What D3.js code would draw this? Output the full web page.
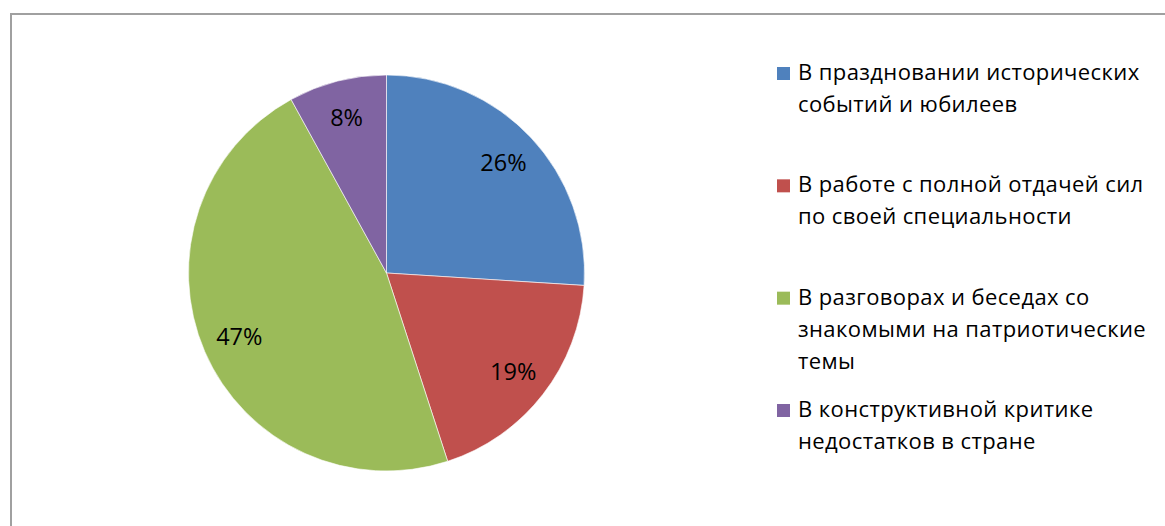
<!DOCTYPE html>
<html lang="ru">
<head>
    <meta charset="UTF-8">
    <title>Pie chart</title>
    <script src="https://d3js.org/d3.v7.min.js"></script>
    <style>
        body {
            margin: 0;
            background: #fff;
            font-family: "Open Sans", "Noto Sans", "DejaVu Sans", sans-serif;
        }
        svg { display: block; }
        .pct { font-size: 23.5px; fill: #000; }
        .legend text { font-size: 22px; letter-spacing: 0.4px; fill: #000; }
    </style>
</head>
<body>
    <div id="chart"></div>

    <script>
        // legend labels, wrapped the way the original shows them
        const categoryLines = [
            ["В праздновании исторических", "событий и юбилеев"],
            ["В работе с полной отдачей сил", "по своей специальности"],
            ["В разговорах и беседах со", "знакомыми на патриотические", "темы"],
            ["В конструктивной критике", "недостатков в стране"]
        ];
        const values = [26, 19, 47, 8];
        const colors = ["#4F81BD", "#C0504D", "#9BBB59", "#8064A2"];

        const width = 1165;
        const height = 526;

        const svg = d3.select("#chart").append("svg")
            .attr("width", width)
            .attr("height", height);

        // chart area border (runs off the right/bottom edge in the original)
        svg.append("rect")
            .attr("x", 11)
            .attr("y", 14)
            .attr("width", 1400)
            .attr("height", 800)
            .attr("fill", "none")
            .attr("stroke", "#a0a0a0")
            .attr("stroke-width", 2);

        const cx = 386.5, cy = 273, radius = 198;

        const pie = d3.pie().sort(null).value(d => d);
        const arcs = pie(values);

        const arc = d3.arc().innerRadius(0).outerRadius(radius);
        const labelArc = d3.arc().innerRadius(radius * 0.81).outerRadius(radius * 0.81);

        const g = svg.append("g")
            .attr("transform", `translate(${cx}, ${cy})`);

        g.selectAll("path")
            .data(arcs)
            .enter().append("path")
            .attr("d", arc)
            .attr("fill", (d, i) => colors[i])
            .attr("stroke", "#fff")
            .attr("stroke-width", 0.6);

        g.selectAll(".pct")
            .data(arcs)
            .enter().append("text")
            .attr("class", "pct")
            .attr("transform", d => `translate(${labelArc.centroid(d)})`)
            .attr("text-anchor", "middle")
            .attr("dy", "0.35em")
            .text(d => d.data + "%");

        // legend
        const slot = d3.scaleLinear().domain([0, 3]).range([80, 417]);
        const lineH = 32;

        const legend = svg.append("g").attr("class", "legend");
        const items = legend.selectAll("g")
            .data(categoryLines)
            .enter().append("g")
            .attr("transform", (d, i) => `translate(0, ${slot(i)})`);

        items.append("rect")
            .attr("x", 777)
            .attr("y", -13)
            .attr("width", 13)
            .attr("height", 13)
            .attr("fill", (d, i) => colors[i]);

        items.append("text")
            .attr("x", 798)
            .selectAll("tspan")
            .data(d => d)
            .enter().append("tspan")
            .attr("x", 798)
            .attr("y", (d, i) => i * lineH)
            .text(d => d);
    </script>
</body>
</html>
